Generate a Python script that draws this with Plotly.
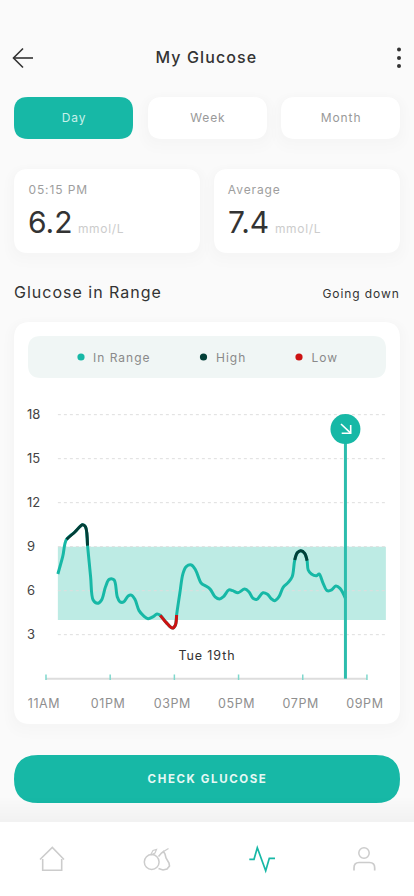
import json
import plotly.graph_objects as go

W, H = 414, 896
TEAL = "#17b8a6"
DARK = "#033f38"
RED = "#cc1212"
FONT = "Inter"

## chart data
glucose_hours = [11.37, 11.52, 11.64, 11.90, 12.14, 12.23, 12.295, 12.39, 12.47, 12.60, 12.73, 12.855,
                 12.97, 13.12, 13.22, 13.30, 13.42, 13.56, 13.66, 13.77, 13.90, 14.05, 14.18, 14.34,
                 14.46, 14.56, 14.75, 14.94, 15.03, 15.07, 15.17, 15.27, 15.37, 15.53, 15.66, 15.84,
                 15.98, 16.12, 16.27, 16.41, 16.53, 16.70, 16.82, 16.98, 17.19, 17.32, 17.45, 17.57,
                 17.76, 17.90, 18.02, 18.125, 18.26, 18.39, 18.54, 18.67, 18.75, 18.83, 18.94, 19.06,
                 19.135, 19.17, 19.27, 19.43, 19.51, 19.635, 19.76, 19.90, 20.03, 20.16, 20.33]
glucose_values = [7.14, 8.32, 9.5, 10.0, 10.5, 10.36, 9.07, 6.95, 5.36, 5.14, 5.36, 6.27,
                  6.77, 6.73, 5.59, 5.25, 5.23, 5.64, 5.70, 5.41, 4.64, 4.27, 4.09, 4.23,
                  4.41, 4.32, 3.82, 3.45, 3.64, 4.34, 5.82, 7.18, 7.64, 7.75, 7.41, 6.5,
                  6.32, 6.09, 5.58, 5.43, 5.59, 6.05, 6.0, 5.86, 6.11, 5.93, 5.48, 5.41,
                  5.86, 5.75, 5.45, 5.32, 5.59, 6.23, 6.55, 6.95, 8.09, 8.59, 8.73, 8.55,
                  8.05, 7.41, 7.14, 7.02, 7.14, 6.5, 6.0, 6.05, 6.32, 6.16, 5.48]
# index spans of the readings drawn out of range
high_spans = [(2, 6), (56, 60)]
low_spans = [(25, 29)]

tick_hours = [11, 13, 15, 17, 19, 21]
tick_labels = ["11AM", "01PM", "03PM", "05PM", "07PM", "09PM"]
y_ticks = [3, 6, 9, 12, 15, 18]
range_low, range_high = 4.0, 9.0
current_hour = 20.33
marker_value = 17.02
grid_hours = (11.37, 21.59)
x_range = [10.315, 22.03]
y_range = [-0.09, 18.66]

# plotly has no letter spacing option, it gets set on the drawn text at the end
spacing = {"My Glucose": 1.1, "Day": 0.9, "Week": 0.9, "Month": 0.9, "05:15 PM": 0.9, "Average": 0.9,
           "mmol/L": 0.7, "Glucose in Range": 1.0, "Going down": 0.9, "In Range": 1.0, "High": 1.0, "Low": 1.0,
           "Tue 19th": 0.9, "CHECK GLUCOSE": 1.6, "11AM": 0.6, "01PM": 0.6, "03PM": 0.6, "05PM": 0.6, "07PM": 0.6, "09PM": 0.6}


## helpers
def px(x, y):
    return x / W, 1 - y / H


def path_from(points, close=False):
    out = []
    for i, (x, y) in enumerate(points):
        a, b = px(x, y)
        out.append(("M" if i == 0 else "L") + f"{a:.5f},{b:.5f}")
    return " ".join(out) + (" Z" if close else "")


def rounded(x0, y0, x1, y1, r):
    pts = [("M", x0 + r, y0), ("L", x1 - r, y0), ("Q", x1, y0, x1, y0 + r), ("L", x1, y1 - r),
           ("Q", x1, y1, x1 - r, y1), ("L", x0 + r, y1), ("Q", x0, y1, x0, y1 - r),
           ("L", x0, y0 + r), ("Q", x0, y0, x0 + r, y0)]
    s = ""
    for p in pts:
        coords = [px(p[i], p[i + 1]) for i in range(1, len(p), 2)]
        s += p[0] + " ".join(f"{a:.5f},{b:.5f}" for a, b in coords) + " "
    return s + "Z"


shapes = []
annotations = []


def box(x0, y0, x1, y1, r, color, shadow=False):
    if shadow:
        for grow, dy in [(10, 5), (7, 4), (4, 3), (2, 2)]:
            shapes.append(dict(type="path", xref="paper", yref="paper", layer="below", line_width=0,
                               path=rounded(x0 - grow, y0 - grow + dy, x1 + grow, y1 + grow + dy, r + grow),
                               fillcolor="rgba(0,0,0,0.004)"))
    shapes.append(dict(type="path", xref="paper", yref="paper", layer="below", line_width=0,
                       path=rounded(x0, y0, x1, y1, r), fillcolor=color))


def icon(points, color, width=1.6, close=False):
    shapes.append(dict(type="path", xref="paper", yref="paper", layer="above", path=path_from(points, close),
                       line=dict(color=color, width=width)))


def circle(cx, cy, r, fill=None, line=None, width=1.5):
    a0, b0 = px(cx - r, cy + r)
    a1, b1 = px(cx + r, cy - r)
    shapes.append(dict(type="circle", xref="paper", yref="paper", layer="above", x0=a0, y0=b0, x1=a1, y1=b1,
                       fillcolor=fill or "rgba(0,0,0,0)",
                       line=dict(color=line or "rgba(0,0,0,0)", width=width if line else 0)))


def label(text, x, y, size, color, anchor="center", weight=400):
    # spaced text grows around its middle, so side anchored labels move by half of it
    extra = len(text) * spacing.get(text, 0) / 2
    x += {"left": extra, "right": -extra, "center": 0}[anchor]
    a, b = px(x, y)
    annotations.append(dict(text=text, x=a, y=b, xref="paper", yref="paper", xanchor=anchor, yanchor="middle",
                            showarrow=False, borderpad=0, borderwidth=0,
                            font=dict(family=FONT, size=size, color=color, weight=weight)))


## page furniture
box(14, 97, 133, 139, 14, TEAL)
box(148, 97, 267, 139, 14, "#ffffff", True)
box(281, 97, 400, 139, 14, "#ffffff", True)
box(14, 169, 200, 253, 14, "#ffffff", True)
box(214, 169, 400, 253, 14, "#ffffff", True)
box(14, 322, 400, 724, 16, "#ffffff", True)
box(28, 336, 386, 378, 13, "#f0f6f5")
box(14, 755, 400, 803, 24, TEAL)
for i in range(8):
    shapes.append(dict(type="rect", xref="paper", yref="paper", layer="below", line_width=0,
                       x0=0, x1=1, y0=px(0, 822)[1], y1=px(0, 822 - (i + 1) * 3)[1],
                       fillcolor="rgba(0,0,0,0.005)"))
shapes.append(dict(type="rect", xref="paper", yref="paper", layer="below", line_width=0,
                   x0=0, x1=1, y0=0, y1=px(0, 822)[1], fillcolor="#ffffff"))

# header icons
icon([(33, 58), (13.5, 58)], "#333333")
icon([(23, 48.5), (13.5, 58), (23, 67.5)], "#333333")
for dot_y in (49.5, 58, 66):
    circle(399, dot_y, 2, fill="#333333")

# bottom nav icons
grey = "#cccccc"
icon([(40, 859.5), (52.3, 847.5), (64, 859.5)], grey)
icon([(42.7, 859), (42.7, 870.3), (61.7, 870.3), (61.7, 859)], grey)
circle(151.7, 862, 7.4, line=grey)
icon([(158.5, 856.5), (161.5, 853), (163.5, 851.5), (165, 854), (166, 858), (169, 863), (169.5, 866),
      (167, 869), (163, 870), (158.5, 868.5)], grey)
icon([(150.5, 855), (153, 850.5), (156.5, 849.5), (155, 853), (151, 855)], grey, 1.2)
icon([(163.5, 851.5), (168.5, 848.5)], grey, 1.2)
icon([(249.3, 859.3), (254, 859.3), (257.3, 847.7), (265.7, 870.7), (269.3, 858.3), (275, 858.3)], TEAL, 1.7)
circle(364, 853, 5.2, line=grey)
shapes.append(dict(type="path", xref="paper", yref="paper", layer="above", line=dict(color=grey, width=1.7),
                   path="M{:.5f},{:.5f} L{:.5f},{:.5f} Q{:.5f},{:.5f} {:.5f},{:.5f} L{:.5f},{:.5f} Q{:.5f},{:.5f} {:.5f},{:.5f} L{:.5f},{:.5f}".format(
                       *px(354, 870.5), *px(354, 868), *px(354, 862.5), *px(359, 862.5), *px(369.5, 862.5),
                       *px(374.7, 862.5), *px(374.7, 868), *px(374.7, 870.5))))

# arrow in the current reading badge
icon([(341, 424), (350.7, 433.2)], "#ffffff", 1.6)
icon([(341.7, 433.2), (350.7, 433.2), (350.7, 425)], "#ffffff", 1.6)

## text
label("My Glucose", 206.5, 57, 16, "#333333", weight=500)
label("Day", 73.5, 117.5, 12, "#c8f0ea")
label("Week", 207.5, 117.5, 12, "#999999")
label("Month", 340.5, 117.5, 12, "#999999")
label("05:15 PM", 28, 189.5, 12, "#9e9e9e", "left")
label("6.2", 28, 222, 30, "#333333", "left")
label("mmol/L", 78, 228, 12, "#cccccc", "left")
label("Average", 228, 189.5, 12, "#9e9e9e", "left")
label("7.4", 227.5, 222, 30, "#333333", "left")
label("mmol/L", 275, 228, 12, "#cccccc", "left")
label("Glucose in Range", 14, 292.5, 16, "#333333", "left")
label("Going down", 399, 293, 12, "#333333", "right")
label("In Range", 93, 357, 12, "#8a8a8a", "left")
label("High", 216, 357, 12, "#8a8a8a", "left")
label("Low", 311, 357, 12, "#8a8a8a", "left")
label("Tue 19th", 206.5, 655.5, 12.5, "#333333")
label("CHECK GLUCOSE", 207, 778.5, 11.5, "#e6f8f5", weight=700)
circle(81, 357, 3.6, fill=TEAL)
circle(203.5, 357, 3.6, fill=DARK)
circle(299, 357, 3.6, fill=RED)

## chart
shapes.append(dict(type="rect", xref="x", yref="y", layer="below", line_width=0, x0=grid_hours[0], x1=grid_hours[1],
                   y0=range_low, y1=range_high, fillcolor="#bdebe4"))
for v in y_ticks:
    shapes.append(dict(type="line", xref="x", yref="y", layer="between", x0=grid_hours[0], x1=grid_hours[1], y0=v, y1=v,
                       line=dict(color="#dedede", width=1, dash="3px,3px")))

fig = go.Figure()

# time axis with its ticks
fig.add_trace(go.Scatter(x=[tick_hours[0], tick_hours[-1]], y=[0, 0], mode="lines",
                         line=dict(color="#dddddd", width=2), hoverinfo="skip", showlegend=False))
fig.add_trace(go.Scatter(x=tick_hours, y=[0] * len(tick_hours), mode="markers", hoverinfo="skip", showlegend=False,
                         marker=dict(symbol="line-ns", size=6, line=dict(color="#7fd8cd", width=1.5))))

fig.add_trace(go.Scatter(x=glucose_hours, y=glucose_values, mode="lines", name="In Range",
                         line=dict(color=TEAL, width=3, shape="spline", smoothing=1)))
for spans, color, name in [(high_spans, DARK, "High"), (low_spans, RED, "Low")]:
    for a, b in spans:
        fig.add_trace(go.Scatter(x=glucose_hours[a:b + 1], y=glucose_values[a:b + 1], mode="lines", name=name,
                                 showlegend=False, line=dict(color=color, width=3, shape="spline", smoothing=1)))

# current reading
fig.add_trace(go.Scatter(x=[current_hour, current_hour], y=[0, marker_value], mode="lines",
                         line=dict(color="#2dbdad", width=3), hoverinfo="skip", showlegend=False))
fig.add_trace(go.Scatter(x=[current_hour], y=[marker_value], mode="markers", hoverinfo="skip", showlegend=False,
                         marker=dict(size=30, color=TEAL)))

fig.update_layout(
    width=W, height=H, margin=dict(l=0, r=0, t=0, b=0), paper_bgcolor="#fafafa", plot_bgcolor="rgba(0,0,0,0)",
    showlegend=False, shapes=shapes, annotations=annotations,
    font=dict(family=FONT),
    xaxis=dict(domain=[24 / W, 400 / W], range=x_range, tickmode="array", tickvals=tick_hours, ticktext=tick_labels,
               showgrid=False, zeroline=False, showline=False, ticks="", ticklabelstandoff=14, ticklabelshift=-2,
               tickfont=dict(family=FONT, size=12.5, color="#8f8f8f")),
    yaxis=dict(domain=[1 - 680 / H, 1 - 405 / H], range=y_range, tickmode="array", tickvals=y_ticks,
               showgrid=False, zeroline=False, showline=False, ticks="", ticklabelposition="inside",
               tickfont=dict(family=FONT, size=13, color="#444444")),
)

post = ("document.body.style.margin='0';var sp=" + json.dumps(spacing) +
        ";document.querySelectorAll('svg text').forEach(function(t){var s=sp[t.textContent];"
        "if(s){t.style.letterSpacing=s+'px';}});")

fig.write_html("out.html", post_script=post, config=dict(displayModeBar=False))
